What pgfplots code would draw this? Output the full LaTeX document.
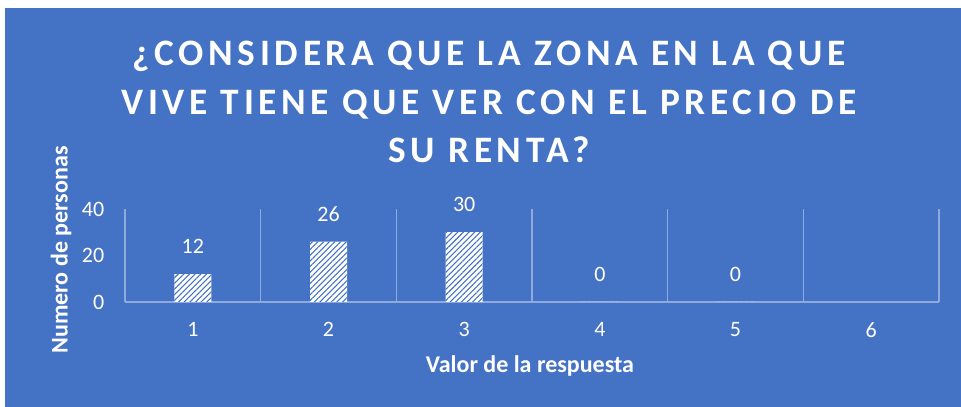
\documentclass[border=0pt]{standalone}
\usepackage{pgfplots}
\pgfplotsset{compat=1.18}
\usepackage{fontspec}
\setmainfont{Carlito}
\newfontfamily\titlefont[LetterSpace=12.5]{Carlito}
\usetikzlibrary{patterns.meta}
\definecolor{bg}{HTML}{4472C4}
\definecolor{gridc}{HTML}{8FAADC}
\newcommand\PX[2]{({#1*0.75pt},{(407-#2)*0.75pt})}
\begin{document}
\begin{tikzpicture}
\useasboundingbox \PX{0}{407} rectangle \PX{961}{0};
\fill[white] \PX{0}{407} rectangle \PX{961}{0};
\fill[bg] \PX{5}{407} rectangle \PX{961}{8};
\begin{axis}[
  at={(93.75pt,78.75pt)}, anchor=south west,
  scale only axis, width=610.5pt, height=69.75pt,
  xmin=0, xmax=6, ymin=0, ymax=40,
  xtick={0.5,1.5,2.5,3.5,4.5,5.5}, xticklabels={1,2,3,4,5,6},
  minor xtick={0,1,2,3,4,5,6}, xminorgrids,
  minor grid style={gridc, line width=0.9pt},
  ytick={0,20,40},
  axis x line*=bottom, axis y line*=left,
  x axis line style={gridc, line width=0.9pt, -},
  y axis line style={draw=none},
  major tick length=0pt, minor tick length=0pt,
  tick style={draw=none},
  ticklabel style={font=\fontsize{16.5}{18}\selectfont, text=white},
  yticklabel style={xshift=-12pt},
  xticklabel style={yshift=-12pt},
  /pgf/number format/assume math mode=true,
  ybar, bar width=27.75pt,
  nodes near coords,
  nodes near coords style={font=\fontsize{16.5}{18}\selectfont, text=white, anchor=south, inner sep=0pt, yshift=15pt},
  clip=false,
]
\addplot[draw=none, fill=white, postaction={pattern={Lines[angle=45, distance=3pt, line width=0.8pt]}, pattern color=bg}]
  coordinates {(0.5,12) (1.5,26) (2.5,30) (3.5,0) (4.5,0)};
\end{axis}
\node[text=white, align=center, font=\titlefont\bfseries\fontsize{28}{36.4}\selectfont] at \PX{489}{102}
  {¿CONSIDERA QUE LA ZONA EN LA QUE\\VIVE TIENE QUE VER CON EL PRECIO DE\\SU RENTA?};
\node[text=white, font=\bfseries\fontsize{18}{20}\selectfont] at \PX{530}{366} {Valor de la respuesta};
\node[text=white, rotate=90, font=\bfseries\fontsize{18}{20}\selectfont] at \PX{61}{250} {Numero de personas};
\end{tikzpicture}
\end{document}
